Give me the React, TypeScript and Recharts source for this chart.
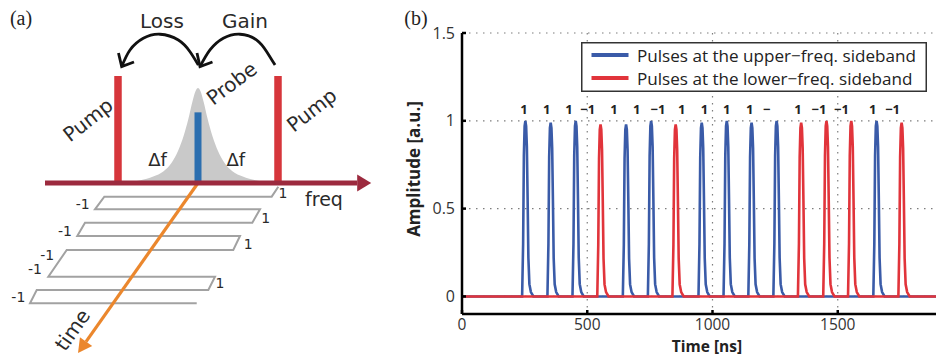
import React from 'react';
import {
  ComposedChart,
  Line,
  Area,
  Scatter,
  XAxis,
  YAxis,
  CartesianGrid,
  Legend,
  Customized,
} from 'recharts';

// ================= Panel (a): schematic (freq in units of Δf, normalised amplitude) =================
const lorentzF = [-0.9, -0.72, -0.56, -0.43, -0.33, -0.25, -0.18, -0.12, -0.07, -0.03, 0, 0.03, 0.07, 0.12, 0.18, 0.25, 0.33, 0.43, 0.56, 0.72, 0.9];
const lorentzA = [0, 0.025, 0.06, 0.11, 0.19, 0.3, 0.44, 0.6, 0.76, 0.86, 0.888, 0.86, 0.76, 0.6, 0.44, 0.3, 0.19, 0.11, 0.06, 0.025, 0];

const pumpF = [-1, 1];
const pumpAmp = 1.0;
const probeF = 0;
const probeAmp = 0.66;

const freqAxisF = [-1.9125, 1.99];
const timeAxisF = [0, -1.399];
const timeAxisA = [0, -1.482];

const waveF = [1.004, 0.921, -1.171, -1.2875, 0.775, 0.679, -1.4125, -1.509, 0.525, 0.441, -1.641, -1.871, 0.2125, 0.129, -2.016, -2.1, -0.016];
const waveA = [-0.035, -0.128, -0.128, -0.246, -0.246, -0.371, -0.371, -0.495, -0.495, -0.626, -0.626, -0.876, -0.876, -1.0, -1.0, -1.124, -1.124];

const lossArcF = [0.004, -0.1, -0.246, -0.475, -0.684, -0.85, -0.954];
const lossArcA = [1.103, 1.227, 1.336, 1.39, 1.352, 1.243, 1.087];
const lossHeadF = [-0.994, -0.954, -0.8];
const lossHeadA = [1.215, 1.087, 1.131];
const gainArcF = [0.9625, 0.859, 0.734, 0.525, 0.316, 0.15, 0.025];
const gainArcA = [1.103, 1.227, 1.336, 1.39, 1.352, 1.243, 1.087];
const gainHeadF = [-0.0125, 0.025, 0.181];
const gainHeadA = [1.215, 1.087, 1.131];

const arrowWords = [
  { f: -0.45, a: 1.514, text: 'Loss' },
  { f: 0.5875, a: 1.514, text: 'Gain' },
];
const pumpWords = [
  { f: -1.375, a: 0.589, text: 'Pump' },
  { f: 1.421, a: 0.682, text: 'Pump' },
];
const probeWords = [{ f: 0.421, a: 0.932, text: 'Probe' }];
const detuneWords = [
  { f: -0.506, a: 0.222, text: 'Δf' },
  { f: 0.473, a: 0.222, text: 'Δf' },
];
const freqWords = [{ f: 1.575, a: -0.15, text: 'freq' }];
const timeWords = [{ f: -1.569, a: -1.372, text: 'time' }];
const plusOneF = [1.0625, 0.846, 0.629, 0.275];
const plusOneA = [-0.096, -0.324, -0.573, -0.937];
const minusOneF = [-1.441, -1.6625, -1.884, -2.0375, -2.246];
const minusOneA = [-0.199, -0.449, -0.673, -0.807, -1.063];

// ================= Panel (b): pulse traces =================
const upperPeakTimes = [253, 354, 454, 655, 755, 957, 1057, 1156, 1256, 1655];
const upperPeakAmps = [1.0, 0.99, 1.0, 0.98, 1.0, 0.99, 1.0, 0.99, 1.0, 1.0];
const lowerPeakTimes = [553, 853, 1354, 1455, 1554, 1755];
const lowerPeakAmps = [0.98, 0.98, 0.99, 1.0, 1.0, 0.99];
const pulseOffsets = [-13, -9, -6, -3, 0, 3, 6, 9, 12, 16, 22, 32];
const pulseShape = [0, 0.3, 0.8, 0.97, 1.0, 0.97, 0.85, 0.55, 0.22, 0.07, 0.025, 0];
const timeRange = [0, 2000];
const timeTicks = [0, 500, 1000, 1500];
const ampTicks = [0, 0.5, 1, 1.5];
const bitLabelTimes = [247, 338, 427, 502, 607, 697, 782, 877, 968, 1057, 1149, 1216, 1341, 1425, 1515, 1640, 1719];
const bitLabels = ['1', '1', '1', '−1', '1', '1', '−1', '1', '1', '1', '1', '−', '1', '−1', '−1', '1', '−1'];
const bitLabelLevel = 1.07;

const BLUE = '#3a5ba8';
const RED = '#e1343b';
const legendSeries = [
  { name: 'Pulses at the upper−freq. sideband', color: BLUE },
  { name: 'Pulses at the lower−freq. sideband', color: RED },
];

// ---------- helpers building library tables ----------
const pairs = (fs: number[], as: number[]) => fs.map((f, i) => ({ f, a: as[i] }));
const words = (fs: number[], as: number[], text: string) => fs.map((f, i) => ({ f, a: as[i], text }));

const buildTrace = (times: number[], amps: number[]) => {
  const pts: { t: number; v: number }[] = [{ t: timeRange[0], v: 0 }];
  times.forEach((t0, i) => {
    pulseOffsets.forEach((dt, j) => pts.push({ t: t0 + dt, v: amps[i] * pulseShape[j] }));
  });
  pts.push({ t: timeRange[1], v: 0 });
  return pts;
};

const lorentzData = pairs(lorentzF, lorentzA);
const pumpData = pumpF.map((f) => [{ f, a: 0 }, { f, a: pumpAmp }]);
const probeData = [{ f: probeF, a: 0 }, { f: probeF, a: probeAmp }];
const freqAxisData = freqAxisF.map((f) => ({ f, a: 0 }));
const timeAxisData = pairs(timeAxisF, timeAxisA);
const waveData = pairs(waveF, waveA);
const lossArc = pairs(lossArcF, lossArcA);
const lossHead = pairs(lossHeadF, lossHeadA);
const gainArc = pairs(gainArcF, gainArcA);
const gainHead = pairs(gainHeadF, gainHeadA);
const plusOneWords = words(plusOneF, plusOneA, '1');
const minusOneWords = words(minusOneF, minusOneA, '-1');

const upperTrace = buildTrace(upperPeakTimes, upperPeakAmps);
const lowerTrace = buildTrace(lowerPeakTimes, lowerPeakAmps);
const bitLabelData = bitLabelTimes.map((t, i) => ({ t, v: bitLabelLevel, text: bitLabels[i] }));

// ---------- shapes ----------
const textShape =
  (size: number, rot = 0, weight: number | string = 'normal', family = 'DejaVu Sans', fill = '#2a2a2a') =>
  (p: any) => {
    if (p.cx == null || p.cy == null) return <g />;
    return (
      <text
        x={p.cx}
        y={p.cy}
        transform={rot ? `rotate(${rot} ${p.cx} ${p.cy})` : undefined}
        textAnchor="middle"
        dominantBaseline="central"
        fontSize={size}
        fontFamily={family}
        fontWeight={weight}
        fill={fill}
      >
        {p.payload.text}
      </text>
    );
  };

const arrowHeadDot =
  (total: number, angleDeg: number, len: number, half: number, color: string) =>
  (p: any) => {
    if (p.index !== total - 1 || p.cx == null) return <g key={p.index} />;
    const r = (angleDeg * Math.PI) / 180;
    const dx = Math.cos(r);
    const dy = Math.sin(r);
    const tipX = p.cx + dx * len;
    const tipY = p.cy + dy * len;
    const pts = `${tipX},${tipY} ${p.cx - dy * half},${p.cy + dx * half} ${p.cx + dy * half},${p.cy - dx * half}`;
    return <polygon key={p.index} points={pts} fill={color} />;
  };

const PanelLabel = ({ x, text }: { x: number; text: string }) => (
  <text x={x} y={18} textAnchor="middle" dominantBaseline="central" fontSize={20} fontFamily="Liberation Serif" fill="#222">
    {text}
  </text>
);

const PanelA = () => (
  <ComposedChart width={400} height={359} margin={{ top: 0, right: 0, bottom: 0, left: 0 }}>
    <XAxis type="number" dataKey="f" domain={[-2.475, 2.525]} allowDataOverflow hide />
    <YAxis type="number" domain={[-1.645, 1.71]} allowDataOverflow hide />
    <Area data={lorentzData} dataKey="a" type="monotone" baseValue={0} fill="#c9c9c9" fillOpacity={1} stroke="none" isAnimationActive={false} />
    {pumpData.map((d, i) => (
      <Line key={`pump${i}`} data={d} dataKey="a" stroke="#d6363b" strokeWidth={7.5} dot={false} isAnimationActive={false} />
    ))}
    <Line data={probeData} dataKey="a" stroke="#2b6eaf" strokeWidth={7} dot={false} isAnimationActive={false} />
    <Line data={waveData} dataKey="a" stroke="#a2a2a2" strokeWidth={2} dot={false} isAnimationActive={false} />
    <Line
      data={timeAxisData}
      dataKey="a"
      stroke="#eb872d"
      strokeWidth={3.2}
      dot={arrowHeadDot(timeAxisData.length, 125.2, 14, 7.5, '#eb872d')}
      isAnimationActive={false}
    />
    <Line
      data={freqAxisData}
      dataKey="a"
      stroke="#9c2a3e"
      strokeWidth={5}
      dot={arrowHeadDot(freqAxisData.length, 0, 14, 8.5, '#9c2a3e')}
      isAnimationActive={false}
    />
    <Line data={lossArc} dataKey="a" type="natural" stroke="#111" strokeWidth={2.8} dot={false} isAnimationActive={false} />
    <Line data={lossHead} dataKey="a" stroke="#111" strokeWidth={2.8} dot={false} isAnimationActive={false} />
    <Line data={gainArc} dataKey="a" type="natural" stroke="#111" strokeWidth={2.8} dot={false} isAnimationActive={false} />
    <Line data={gainHead} dataKey="a" stroke="#111" strokeWidth={2.8} dot={false} isAnimationActive={false} />
    <Scatter data={arrowWords} dataKey="a" shape={textShape(20)} isAnimationActive={false} />
    <Scatter data={pumpWords} dataKey="a" shape={textShape(20, -38)} isAnimationActive={false} />
    <Scatter data={probeWords} dataKey="a" shape={textShape(20, -37)} isAnimationActive={false} />
    <Scatter data={detuneWords} dataKey="a" shape={textShape(18)} isAnimationActive={false} />
    <Scatter data={freqWords} dataKey="a" shape={textShape(19)} isAnimationActive={false} />
    <Scatter data={timeWords} dataKey="a" shape={textShape(20, -55)} isAnimationActive={false} />
    <Scatter data={plusOneWords} dataKey="a" shape={textShape(14)} isAnimationActive={false} />
    <Scatter data={minusOneWords} dataKey="a" shape={textShape(14)} isAnimationActive={false} />
    <Customized component={() => <PanelLabel x={21} text="(a)" />} />
  </ComposedChart>
);

const LegendBox = () => (
  <svg width={346} height={50} style={{ display: 'block' }}>
    <rect x={0.75} y={0.75} width={344.5} height={48.5} fill="#fff" stroke="#333" strokeWidth={1.5} />
    {legendSeries.map((s, i) => (
      <g key={s.name}>
        <line x1={10.5} x2={47.5} y1={13 + 23 * i} y2={13 + 23 * i} stroke={s.color} strokeWidth={4} />
        <text x={56} y={13 + 23 * i} dominantBaseline="central" fontSize={17.1} fontFamily="Open Sans" fill="#222">
          {s.name}
        </text>
      </g>
    ))}
  </svg>
);

const AxisTitles = () => (
  <g>
    <PanelLabel x={16} text="(b)" />
    <text x={307} y={346} textAnchor="middle" dominantBaseline="central" fontFamily="Open Sans" fontWeight={700} fontSize={15.5} fill="#222">
      Time [ns]
    </text>
    <text
      x={13}
      y={169}
      transform="rotate(-90 13 169)"
      textAnchor="middle"
      dominantBaseline="central"
      fontFamily="Open Sans"
      fontWeight={700}
      fontSize={17}
      fill="#222"
    >
      Amplitude [a.u.]
    </text>
  </g>
);

const axisLine = { stroke: '#000', strokeWidth: 2.5 };
const tickStyle = { fill: '#333', fontSize: 16, fontFamily: 'Open Sans' };
const xTickStyle = { fill: '#333', fontSize: 15.5, fontFamily: 'Open Sans' };

const PanelB = () => (
  <ComposedChart width={580} height={359} margin={{ top: 33, right: 17, bottom: 15, left: 12 }}>
    <CartesianGrid stroke="#7d7d7d" strokeWidth={1.2} strokeDasharray="1.5 5.5" />
    <XAxis
      type="number"
      dataKey="t"
      domain={timeRange}
      ticks={timeTicks}
      allowDataOverflow
      height={30}
      axisLine={axisLine}
      tickLine={axisLine}
      tickSize={-4}
      tickMargin={9}
      tick={xTickStyle}
    />
    <XAxis
      xAxisId="top"
      orientation="top"
      type="number"
      domain={timeRange}
      ticks={timeTicks}
      allowDataOverflow
      height={0}
      axisLine={axisLine}
      tickLine={axisLine}
      tickSize={-4}
      tick={false}
    />
    <YAxis
      type="number"
      domain={[-0.1, 1.5]}
      ticks={ampTicks}
      allowDataOverflow
      width={50}
      axisLine={axisLine}
      tickLine={axisLine}
      tickSize={-4}
      tickMargin={11}
      tick={tickStyle}
    />
    <Line data={upperTrace} dataKey="v" name={legendSeries[0].name} stroke={BLUE} strokeWidth={2.6} dot={false} isAnimationActive={false} />
    <Line data={lowerTrace} dataKey="v" name={legendSeries[1].name} stroke={RED} strokeWidth={2.6} dot={false} isAnimationActive={false} />
    <Scatter data={bitLabelData} dataKey="v" shape={textShape(13, 0, 700, 'Open Sans', '#222')} isAnimationActive={false} legendType="none" />
    <Legend
      layout="horizontal"
      verticalAlign="middle"
      align="center"
      wrapperStyle={{ position: 'absolute', left: 181, top: 42, width: 346, height: 50 }}
      content={() => <LegendBox />}
    />
    <Customized component={AxisTitles} />
  </ComposedChart>
);

export default function App() {
  return (
    <div style={{ position: 'fixed', left: 0, top: 0, width: 936, height: 359, overflow: 'hidden', background: '#fff' }}>
      <div style={{ position: 'absolute', left: 0, top: 0 }}>
        <PanelA />
      </div>
      <div style={{ position: 'absolute', left: 400, top: 0 }}>
        <PanelB />
      </div>
    </div>
  );
}
